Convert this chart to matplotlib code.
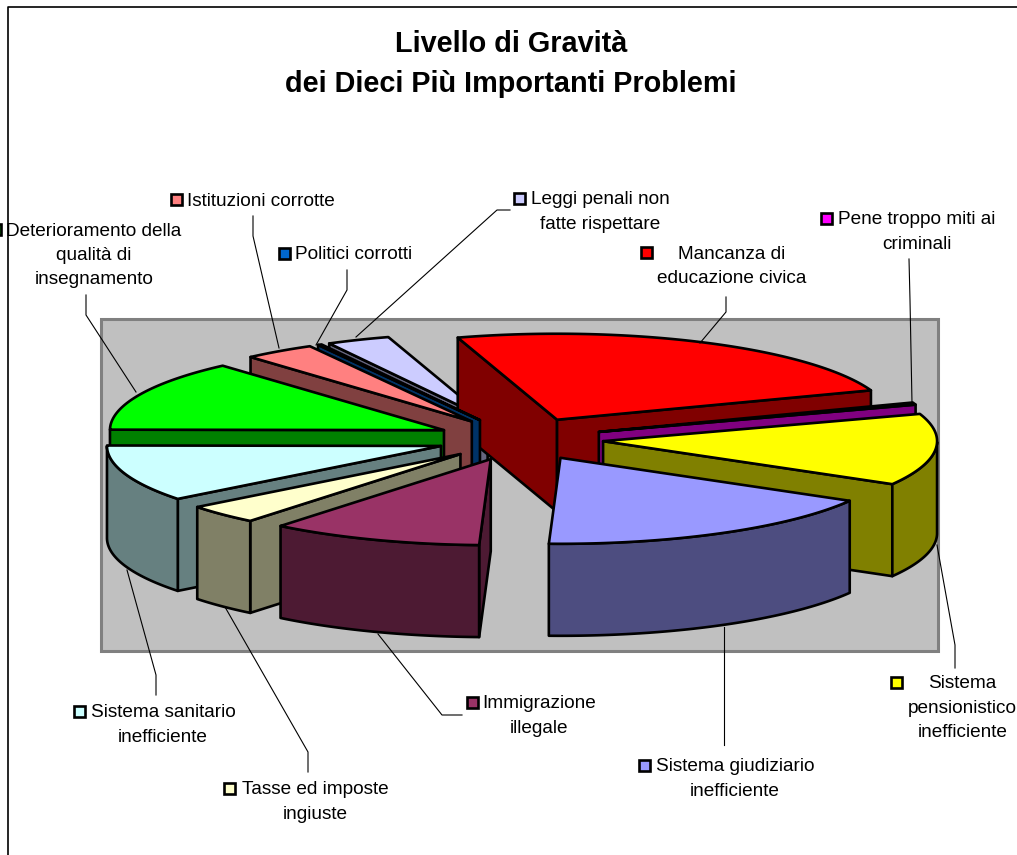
import numpy as np
import matplotlib
matplotlib.use("Agg")
import matplotlib.pyplot as plt
from matplotlib.patches import Polygon, Rectangle

plt.rcParams['font.family'] = ['Liberation Sans', 'DejaVu Sans']

# ---- data ----
categories = ["Mancanza di\neducazione civica", "Pene troppo miti ai\ncriminali",
              "Sistema\npensionistico\ninefficiente", "Sistema giudiziario\ninefficiente",
              "Immigrazione\nillegale", "Tasse ed imposte\ningiuste",
              "Sistema sanitario\ninefficiente", "Deterioramento della\nqualità di\ninsegnamento",
              "Istituzioni corrotte", "Politici corrotti", "Leggi penali non\nfatte rispettare"]
values = [24.25, 0.42, 13.47, 17.22, 10.28, 3.61, 10.64, 13.39, 3.47, 0.19, 3.06]
top_colors = ["#FF0000", "#FF00FF", "#FFFF00", "#9999FF", "#993366", "#FFFFCC",
              "#CCFFFF", "#00FF00", "#FF8080", "#0066CC", "#CCCCFF"]
side_colors = ["#800000", "#800080", "#808000", "#4D4D80", "#4D1A33", "#808066",
               "#668080", "#008000", "#804040", "#003366", "#666680"]

# ---- layout (pixels) ----
W, H = 1017, 855
CX, CY, RX, RY, DEPTH, EXPLODE = 520, 439, 334, 86, 92, 0.25
START = -17.3
LW = 1.9

label_pos = [(732, 266.5), (917, 232), (962.5, 708), (735, 779), (539, 716),
             (315, 802), (163, 725), (94, 255.5), (261, 201), (354, 254.5), (600, 212)]
key_pos = [(646, 252), (826, 218), (896, 682), (644, 765), (472, 702),
           (229, 788), (79, 711), (-5, 229), (176, 199), (284, 253), (519, 198)]
leaders = [[(726, 297), (726, 312), (700, 343)],
           [(909, 259), (910, 300), (912, 403)],
           [(955, 668), (955, 645), (937, 545)],
           [(724, 745), (724, 627)],
           [(462, 715), (442, 715), (378, 634)],
           [(308, 772), (308, 752), (225, 607)],
           [(156, 695), (156, 675), (127, 570)],
           [(86, 295), (86, 315), (136, 392)],
           [(253, 216), (253, 236), (279, 348)],
           [(347, 270), (347, 290), (316, 345)],
           [(510, 210), (497, 210), (356, 337)]]

fig = plt.figure(figsize=(W / 100, H / 100), dpi=100)
ax = fig.add_axes([0, 0, 1, 1])
ax.set_xlim(0, W)
ax.set_ylim(H, 0)
ax.axis("off")

# chart frame and plot area
ax.plot([8, 8, W], [H, 7, 7], color="black", lw=1.2, zorder=1)
ax.add_patch(Rectangle((101, 319), 837, 332, fc="#C0C0C0", ec="#808080", lw=2.2, zorder=1))

# slice geometry
vals = np.array(values, float)
ang = START + np.concatenate([[0], np.cumsum(vals) / vals.sum() * 360])
z = 10


def P(c, a):
    a = np.radians(a)
    return np.column_stack([c[0] + RX * np.sin(a), c[1] - RY * np.cos(a)])


order = sorted(range(len(vals)),
               key=lambda i: -np.cos(np.radians((ang[i] + ang[i + 1]) / 2)))
for i in order:
    a, b = ang[i], ang[i + 1]
    mid = np.radians((a + b) / 2)
    c = (CX + EXPLODE * RX * np.sin(mid), CY - EXPLODE * RY * np.cos(mid))
    t = np.linspace(a, b, 80)
    arc = P(c, t)
    apex = np.array(c)
    down = np.array([0, DEPTH])
    style = dict(ec="black", lw=LW, joinstyle="round")
    if np.sin(np.radians(a)) < 0:
        q = P(c, np.array([a]))[0]
        ax.add_patch(Polygon([apex, q, q + down, apex + down], fc=side_colors[i], zorder=z, **style))
        z += 1
    if np.sin(np.radians(b)) > 0:
        q = P(c, np.array([b]))[0]
        ax.add_patch(Polygon([apex, q, q + down, apex + down], fc=side_colors[i], zorder=z, **style))
        z += 1
    # visible rim: the part of the arc on the front half
    tt = t[(np.cos(np.radians(t)) <= 0)]
    if len(tt) > 1:
        r = P(c, tt)
        ax.add_patch(Polygon(np.vstack([r, (r + down)[::-1]]), fc=side_colors[i], zorder=z, **style))
        z += 1
    ax.add_patch(Polygon(np.vstack([apex, arc]), fc=top_colors[i], zorder=z, **style))
    z += 1

# leaders, labels, keys
for pts in leaders:
    x, y = zip(*pts)
    ax.plot(x, y, color="black", lw=0.8, zorder=200)
for name, (x, y), (kx, ky), col in zip(categories, label_pos, key_pos, top_colors):
    ax.text(x, y, name, ha="center", va="center", fontsize=13.7, color="black",
            linespacing=1.54, zorder=210, clip_on=False)
    ax.add_patch(Rectangle((kx - 5.5, ky - 5.5), 11, 11, fc=col, ec="black", lw=1.9, zorder=210))

ax.text(511, 64, "Livello di Gravità\ndei Dieci Più Importanti Problemi", ha="center", va="center",
        fontsize=20.8, fontweight="bold", linespacing=1.52, color="black", zorder=210)

fig.savefig("out.png", dpi=100, facecolor="white")
